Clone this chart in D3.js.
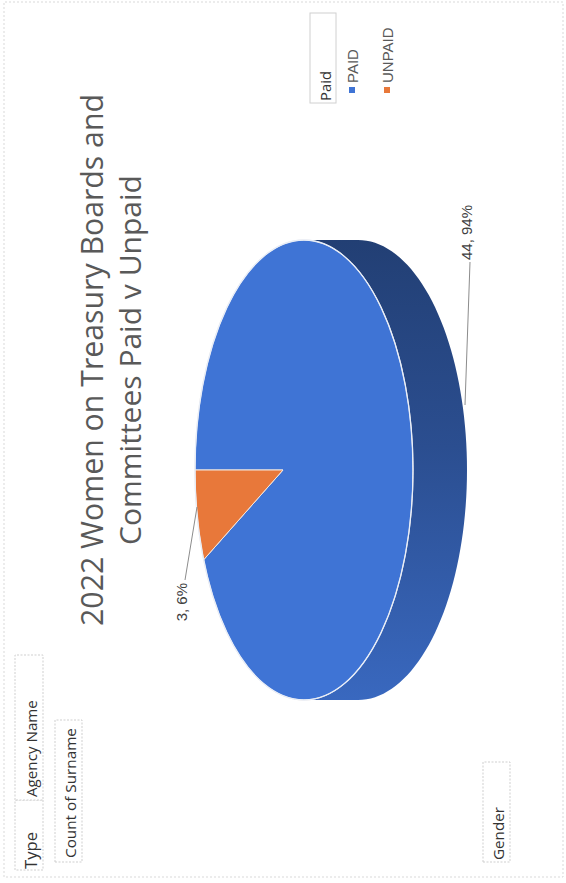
<!DOCTYPE html>
<html><head><meta charset="utf-8">
<script src="https://cdn.jsdelivr.net/npm/d3@7"></script>
<style>html,body{margin:0;padding:0;background:#fff;}svg{display:block;}</style>
</head><body>
<svg id="c" width="566" height="883"></svg>
<script>
const categories = ["PAID", "UNPAID"];
const values = [44, 3];
const percentLabels = ["94%", "6%"];
const colors = ["#3f74d5", "#e8783a"];
const titleLines = ["2022 Women on Treasury Boards and", "Committees Paid v Unpaid"];
const legendTitle = "Paid";
const fieldButtons = ["Type", "Agency Name"];
const valueButton = "Count of Surname";
const axisButton = "Gender";

const svg = d3.select("#c");
// whole page is rotated 90° counter-clockwise (scanned sideways)
const g = svg.append("g").attr("transform", "translate(0,883) rotate(-90)");
// unrotated frame: width 883 (u), height 566 (v)

// outer border
g.append("rect").attr("x", 6).attr("y", 4).attr("width", 875).attr("height", 559)
  .attr("fill", "none").attr("stroke", "#d9d9d9").attr("stroke-width", 1).attr("stroke-dasharray", "2,2");

const btnFont = "'Open Sans', 'Liberation Sans', sans-serif";
function fitText(el, target) {
  const w = el.node().getComputedTextLength();
  const fs = +el.attr("font-size");
  el.attr("font-size", fs * target / w);
}
function button(x, y, w, h, text, textW, pad) {
  g.append("rect").attr("x", x).attr("y", y).attr("width", w).attr("height", h)
    .attr("fill", "#fff").attr("stroke", "#cfcfcf").attr("stroke-width", 1).attr("stroke-dasharray", "2,1.5");
  const t = g.append("text").attr("x", x + pad).attr("y", y + h - 6).text(text)
    .attr("font-family", btnFont).attr("font-size", 14).attr("fill", "#333");
  fitText(t, textW);
}
button(13, 15, 70, 28, fieldButtons[0], 37, 1);
button(83, 15, 145, 28, fieldButtons[1], 97, 3);
button(21, 55, 142, 27, valueButton, 130, 4);
button(21, 483, 100, 27, axisButton, 53, 2);

// title
const tfont = "'Open Sans', 'Liberation Sans', sans-serif";
const titleCenter = 523;
const titleWidths = [532, 370];
const titleBase = [103, 141];
titleLines.forEach((t, i) => {
  const el = g.append("text").attr("x", titleCenter).attr("y", titleBase[i])
    .attr("text-anchor", "middle").attr("font-family", tfont).attr("font-size", 28)
    .attr("fill", "#595959").text(t);
  fitText(el, titleWidths[i]);
});

// legend
const lfont = "'Liberation Sans', Arial, sans-serif";
g.append("rect").attr("x", 780).attr("y", 310).attr("width", 90).attr("height", 26)
  .attr("fill", "#fff").attr("stroke", "#d0d0d0").attr("stroke-width", 1);
const lt = g.append("text").attr("x", 782).attr("y", 331).text(legendTitle)
  .attr("font-family", btnFont).attr("font-size", 14).attr("fill", "#333");
fitText(lt, 30);
const legY = d3.scalePoint().domain(categories).range([352, 387]);
categories.forEach((c, i) => {
  g.append("rect").attr("x", 790).attr("y", legY(c) - 3).attr("width", 6).attr("height", 6).attr("fill", colors[i]);
  g.append("text").attr("x", 800).attr("y", legY(c) + 5.5).text(c)
    .attr("font-family", lfont).attr("font-size", 15).attr("fill", "#595959");
});

// 3D pie
const cu = 413, cv = 304, rx = 230, ry = 109, depth = 54, apexShift = 21;
const pie = d3.pie().sort(null).value(d => d)(values);
const pt = (a, dy = 0) => [cu + rx * Math.sin(a), cv - ry * Math.cos(a) + dy];
const line = d3.line();

const defs = svg.append("defs");
// side faces (front half: angles PI/2 .. 3PI/2)
pie.forEach((p, i) => {
  const a0 = Math.max(p.startAngle, Math.PI / 2), a1 = Math.min(p.endAngle, 3 * Math.PI / 2);
  if (a1 <= a0) return;
  const n = 80, top = [], bot = [];
  for (let k = 0; k <= n; k++) {
    const a = a0 + (a1 - a0) * k / n;
    top.push(pt(a)); bot.push(pt(a, depth));
  }
  const gid = "side" + i;
  const base = d3.color(colors[i]);
  const grad = defs.append("linearGradient").attr("id", gid).attr("gradientUnits", "userSpaceOnUse")
    .attr("x1", cu + rx).attr("y1", 0).attr("x2", cu - rx).attr("y2", 0);
  grad.append("stop").attr("offset", 0).attr("stop-color", base.darker(1.7));
  grad.append("stop").attr("offset", 0.45).attr("stop-color", base.darker(1.1));
  grad.append("stop").attr("offset", 1).attr("stop-color", base.darker(0.3));
  g.append("path").attr("d", line(top.concat(bot.reverse())) + "Z")
    .attr("fill", `url(#${gid})`);
});

// top faces
pie.forEach((p, i) => {
  const n = Math.max(8, Math.ceil((p.endAngle - p.startAngle) * 60));
  const pts = [[cu, cv - apexShift]];
  for (let k = 0; k <= n; k++) pts.push(pt(p.startAngle + (p.endAngle - p.startAngle) * k / n));
  g.append("path").attr("d", line(pts) + "Z").attr("fill", colors[i])
    .attr("stroke", "#f3e7df").attr("stroke-width", 1).attr("stroke-linejoin", "round");
});
// white rim between face and side
g.append("ellipse").attr("cx", cu).attr("cy", cv).attr("rx", rx).attr("ry", ry)
  .attr("fill", "none").attr("stroke", "#e8eef8").attr("stroke-width", 1.3);

// data labels with leader lines
const labelPos = [
  {tx: 623, ty: 472, anchor: "start", l: [[621, 470], [478, 465]]},
  {tx: 300, ty: 187, anchor: "end", l: [[303, 185], [376, 197]]}
];
pie.forEach((p, i) => {
  const L = labelPos[i];
  g.append("path").attr("d", line(L.l)).attr("stroke", "#8c8c8c").attr("stroke-width", 1).attr("fill", "none");
  g.append("text").attr("x", L.tx).attr("y", L.ty).attr("text-anchor", L.anchor)
    .attr("font-family", lfont).attr("font-size", 15).attr("fill", "#404040")
    .text(`${p.data}, ${percentLabels[i]}`);
});
</script>
</body></html>
